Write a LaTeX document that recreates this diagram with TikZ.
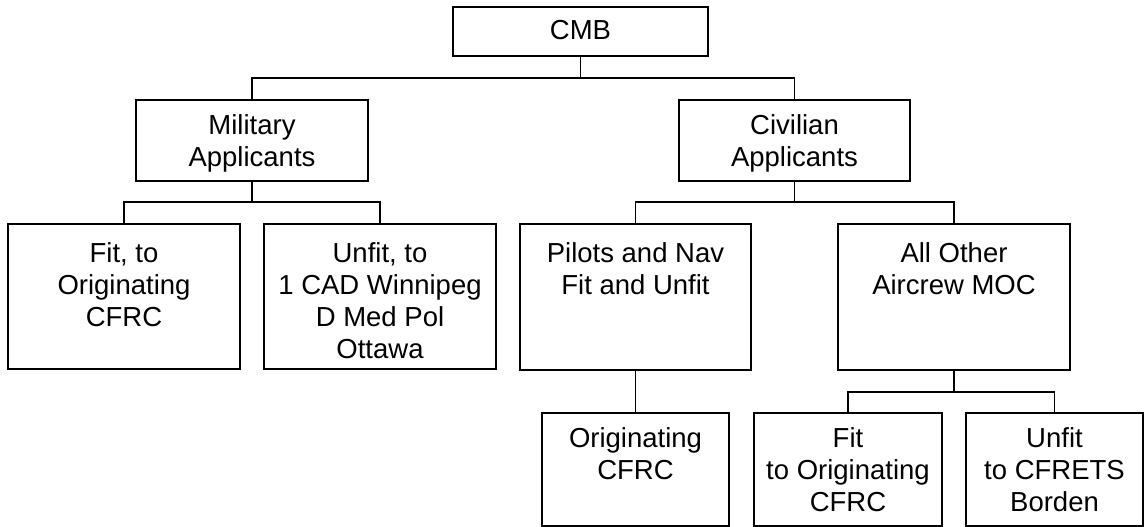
\documentclass[tikz,border=0pt]{standalone}
\usepackage{fontspec}
\setmainfont{Liberation Sans}
\newcommand\boxtxt[4]{\parbox[c][#2pt][t]{#1pt}{\centering\rule{0pt}{#3pt}#4}}
\begin{document}
\begin{tikzpicture}[x=1pt,y=-1pt,
  orgbox/.style={draw=black, line width=1.3pt, inner sep=0pt, fill=white,
    font=\fontsize{27.5}{32}\selectfont},
  link/.style={draw=black, line width=1.3pt}]
\useasboundingbox (0,0) rectangle (1144,527);
\fill[white] (0,0) rectangle (1144,527);
% level 0
\node[orgbox] (cmb) at (580.5,31.5) {\boxtxt{255}{49}{33}{CMB}};
% level 1
\node[orgbox] (mil) at (252,140.5) {\boxtxt{232}{81}{34}{Military\\Applicants}};
\node[orgbox] (civ) at (794.5,140.5) {\boxtxt{231}{81}{34}{Civilian\\Applicants}};
% level 2
\node[orgbox] (fit) at (124,296.5) {\boxtxt{232}{145}{38}{Fit, to\\Originating\\CFRC}};
\node[orgbox] (unfit) at (380,296.5) {\boxtxt{232}{145}{38}{Unfit, to\\1 CAD Winnipeg\\D Med Pol\\Ottawa}};
\node[orgbox] (pil) at (635.5,297) {\boxtxt{231}{146}{38}{Pilots and Nav\\Fit and Unfit}};
\node[orgbox] (oth) at (954,297) {\boxtxt{232}{146}{38}{All Other\\Aircrew MOC}};
% level 3
\node[orgbox] (orig) at (635.5,469.5) {\boxtxt{187}{113}{34}{Originating\\CFRC}};
\node[orgbox] (fit2) at (848,469.5) {\boxtxt{188}{113}{34}{Fit\\to Originating\\CFRC}};
\node[orgbox] (unfit2) at (1054.5,469.5) {\boxtxt{177}{113}{34}{Unfit\\to CFRETS\\Borden}};
% junctions
\coordinate (j0) at (580.5,78);
\coordinate (j1) at (252,202);
\coordinate (j2) at (794.5,202);
\coordinate (j3) at (954,392);
% connectors
\draw[link] (cmb.south) -- (j0);
\draw[link] (mil.north) |- (j0) -| (civ.north);
\draw[link] (mil.south) -- (j1);
\draw[link] (fit.north) |- (j1) -| (unfit.north);
\draw[link] (civ.south) -- (j2);
\draw[link] (pil.north) |- (j2) -| (oth.north);
\draw[link] (pil.south) -- (orig.north);
\draw[link] (oth.south) -- (j3);
\draw[link] (fit2.north) |- (j3) -| (unfit2.north);
\end{tikzpicture}
\end{document}
